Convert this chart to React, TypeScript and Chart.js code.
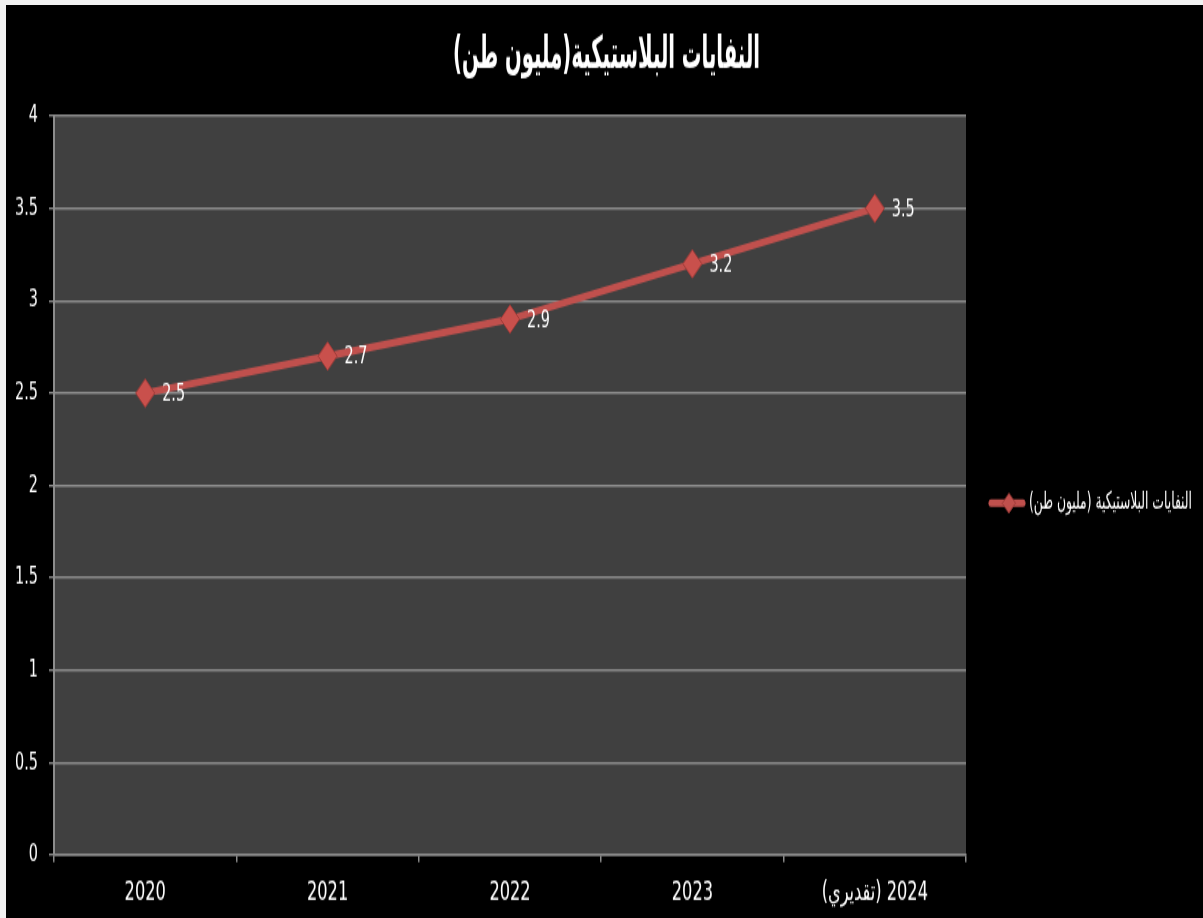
import React, { useEffect, useRef } from 'react';
import { Chart, registerables } from 'chart.js';

Chart.register(...registerables);

// ---- data ----
const categories: string[] = ['2020', '2021', '2022', '2023', '2024 (تقديري)'];
const seriesValues: number[] = [2.5, 2.7, 2.9, 3.2, 3.5];
const seriesName = 'النفايات البلاستيكية (مليون طن)';
const titleText = 'النفايات البلاستيكية(مليون طن)';
const yMin = 0;
const yMax = 4;
const yStep = 0.5;

// ---- layout (canvas drawn at internal height, stretched vertically by CSS) ----
const W = 1197;
const CSS_H = 913;
const H = 609;
const S = CSS_H / H;

const FONT = "'Liberation Sans Narrow', 'DejaVu Sans Condensed', 'Arial Narrow', sans-serif";
const AR_FONT = "'DejaVu Sans Condensed', 'DejaVu Sans', sans-serif";
const LINE_COLOR = '#c0504d';
const GRID = '#8c8c8c';

const decorPlugin = {
  id: 'decor',
  beforeDraw(chart: any) {
    const { ctx, chartArea } = chart;
    ctx.save();
    ctx.fillStyle = '#000000';
    ctx.fillRect(0, 0, chart.width, chart.height);
    ctx.fillStyle = '#404040';
    ctx.fillRect(chartArea.left, chartArea.top, chartArea.right - chartArea.left, chartArea.bottom - chartArea.top);
    ctx.restore();
  },
  afterDatasetsDraw(chart: any) {
    const { ctx } = chart;
    const meta = chart.getDatasetMeta(0);
    ctx.save();
    ctx.direction = 'ltr';
    ctx.fillStyle = '#ffffff';
    ctx.font = `16px ${FONT}`;
    ctx.textAlign = 'left';
    ctx.textBaseline = 'middle';
    meta.data.forEach((pt: any, i: number) => {
      ctx.fillText(String(seriesValues[i]), pt.x + 17, pt.y + 1);
    });
    ctx.restore();
  },
  afterDraw(chart: any) {
    const { ctx } = chart;
    ctx.save();
    // title
    ctx.direction = 'rtl';
    ctx.fillStyle = '#ffffff';
    ctx.font = `bold 30px ${AR_FONT}`;
    ctx.textAlign = 'center';
    ctx.textBaseline = 'middle';
    ctx.fillText(titleText, 600.5, 51 / S, 307);

    // legend
    const ly = 498 / S;
    ctx.strokeStyle = LINE_COLOR;
    ctx.lineWidth = 5;
    ctx.lineCap = 'round';
    ctx.beginPath();
    ctx.moveTo(985, ly);
    ctx.lineTo(1017, ly);
    ctx.stroke();
    const dx = 1003;
    const r = 6.5;
    ctx.fillStyle = LINE_COLOR;
    ctx.strokeStyle = '#9e3a37';
    ctx.lineWidth = 1;
    ctx.beginPath();
    ctx.moveTo(dx - r, ly);
    ctx.lineTo(dx, ly - r);
    ctx.lineTo(dx + r, ly);
    ctx.lineTo(dx, ly + r);
    ctx.closePath();
    ctx.fill();
    ctx.stroke();

    ctx.fillStyle = '#ffffff';
    ctx.font = `16px ${AR_FONT}`;
    ctx.textAlign = 'right';
    ctx.textBaseline = 'middle';
    ctx.fillText(seriesName, 1186, ly, 163);
    ctx.restore();
  },
};

export default function App() {
  const ref = useRef<HTMLCanvasElement | null>(null);

  useEffect(() => {
    const canvas = ref.current;
    if (!canvas) return;
    const chart = new Chart(canvas, {
      type: 'line',
      data: {
        labels: categories,
        datasets: [
          {
            label: seriesName,
            data: seriesValues,
            borderColor: LINE_COLOR,
            borderWidth: 5,
            tension: 0,
            pointStyle: 'rectRot',
            pointRadius: 9.5,
            pointBackgroundColor: '#c9504c',
            pointBorderColor: '#9e3a37',
            pointBorderWidth: 1,
            fill: false,
          },
        ],
      },
      options: {
        responsive: false,
        animation: false,
        events: [],
        layout: {
          padding: { top: 111 / S, left: 0, right: W - 960, bottom: 0 },
        },
        plugins: {
          legend: { display: false },
          title: { display: false },
          tooltip: { enabled: false },
        },
        scales: {
          x: {
            type: 'category',
            offset: true,
            grid: {
              display: true,
              drawOnChartArea: false,
              drawTicks: true,
              offset: true,
              tickLength: 7 / S,
              color: GRID,
              lineWidth: 1.5,
            },
            border: { display: true, color: GRID, width: 1.6 },
            ticks: {
              color: '#ffffff',
              font: { family: FONT, size: 18 },
              padding: 9.5,
              autoSkip: false,
              maxRotation: 0,
              minRotation: 0,
            },
            afterFit: (s: any) => {
              s.height = (CSS_H - 850) / S;
            },
          },
          y: {
            min: yMin,
            max: yMax,
            grid: {
              color: GRID,
              lineWidth: 1.4,
              tickLength: 5,
              drawTicks: true,
            },
            border: { display: true, color: GRID, width: 2 },
            ticks: {
              stepSize: yStep,
              color: '#ffffff',
              font: { family: FONT, size: 16 },
              padding: 11,
              callback: (v: any) => String(Number(v)),
            },
            afterFit: (s: any) => {
              s.width = 48;
            },
          },
        },
      },
      plugins: [decorPlugin],
    } as any);
    return () => chart.destroy();
  }, []);

  return (
    <div style={{ position: 'fixed', left: 0, top: 0, width: 1203, height: 918, background: '#f2f2f2', overflow: 'hidden' }}>
      <canvas
        ref={ref}
        width={W}
        height={H}
        dir="rtl"
        style={{ position: 'absolute', left: 6, top: 5, width: W, height: CSS_H, background: '#000' }}
      />
    </div>
  );
}
